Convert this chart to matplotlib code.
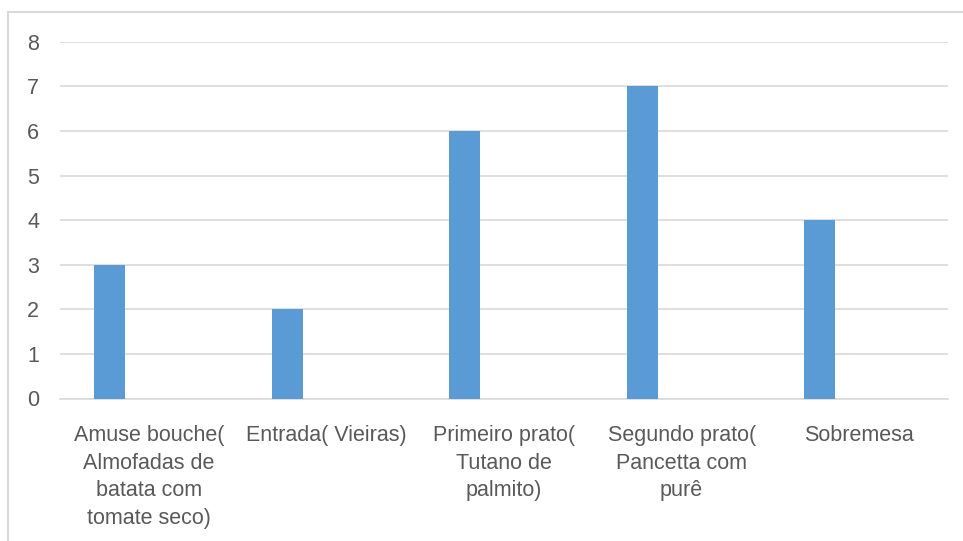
import matplotlib
matplotlib.use("Agg")
import matplotlib.pyplot as plt
from matplotlib.patches import Rectangle
import numpy as np

categories = ["Amuse bouche(\nAlmofadas de\nbatata com\ntomate seco)",
              "Entrada( Vieiras)",
              "Primeiro prato(\nTutano de\npalmito)",
              "Segundo prato(\nPancetta com\npurê",
              "Sobremesa"]
values = [3, 2, 6, 7, 4]
yticks = [0, 1, 2, 3, 4, 5, 6, 7, 8]

plt.rcParams['font.family'] = ['Liberation Sans', 'DejaVu Sans']
grey_text = '#595959'
grid_col = '#D9D9D9'

fig = plt.figure(figsize=(9.63, 5.41), dpi=100)
fig.patch.set_facecolor('white')
ax = fig.add_axes([60/963, 1-398.5/541, 888/963, (398.5-41.7)/541])

x = np.arange(len(categories))
ax.bar(x - 0.221, values, width=0.175, color='#5B9BD5', zorder=3)

ax.set_xlim(-0.5, len(categories) - 0.5)
ax.set_ylim(0, 8)
ax.set_yticks(yticks)
ax.set_yticklabels([str(t) for t in yticks])
ax.set_xticks(x)
ax.set_xticklabels(categories, linespacing=1.42)
ax.tick_params(axis='both', length=0, labelsize=15.5, colors=grey_text)
ax.tick_params(axis='y', pad=15)
ax.tick_params(axis='x', pad=19)
ax.grid(axis='y', color=grid_col, linewidth=1.2, zorder=0)
for s in ['top', 'right', 'left']:
    ax.spines[s].set_visible(False)
ax.spines['bottom'].set_color(grid_col)
ax.spines['bottom'].set_linewidth(1.2)

# outer chart frame
fig.patches.append(Rectangle((8/963, -0.1), 1.2, 1 - 12/541 + 0.1,
                             transform=fig.transFigure, fill=False,
                             edgecolor=grid_col, linewidth=1.5))

fig.savefig('out.png', dpi=100, facecolor='white')
